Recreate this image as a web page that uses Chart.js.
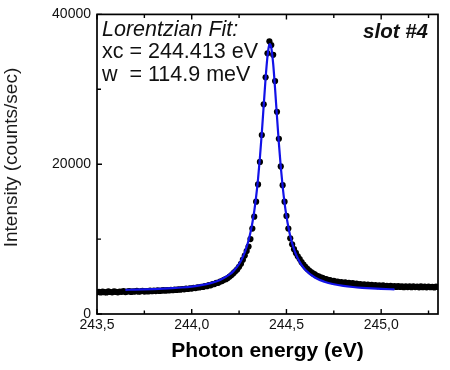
<!DOCTYPE html>
<html lang="en">
<head>
  <meta charset="UTF-8">
  <title>Lorentzian Fit - slot #4</title>
  <script src="https://cdn.jsdelivr.net/npm/chart.js"></script>
  <style>
    body { margin: 0; background: #fff; }
    #wrap { width: 450px; height: 370px; }
  </style>
</head>
<body>
  <div id="wrap"><canvas id="peakChart" width="450" height="370"></canvas></div>

  <script>
    // measured points, photon energy (eV)
    const energy = [
      243.50, 243.51, 243.52, 243.53, 243.54, 243.55, 243.56, 243.57, 243.58, 243.59,
      243.60, 243.61, 243.62, 243.63, 243.64, 243.65, 243.66, 243.67, 243.68, 243.69,
      243.70, 243.71, 243.72, 243.73, 243.74, 243.75, 243.76, 243.77, 243.78, 243.79,
      243.80, 243.81, 243.82, 243.83, 243.84, 243.85, 243.86, 243.87, 243.88, 243.89,
      243.90, 243.91, 243.92, 243.93, 243.94, 243.95, 243.96, 243.97, 243.98, 243.99,
      244.00, 244.01, 244.02, 244.03, 244.04, 244.05, 244.06, 244.07, 244.08, 244.09,
      244.10, 244.11, 244.12, 244.13, 244.14, 244.15, 244.16, 244.17, 244.18, 244.19,
      244.20, 244.21, 244.22, 244.23, 244.24, 244.25, 244.26, 244.27, 244.28, 244.29,
      244.30, 244.31, 244.32, 244.33, 244.34, 244.35, 244.36, 244.37, 244.38, 244.39,
      244.40, 244.41, 244.42, 244.43, 244.44, 244.45, 244.46, 244.47, 244.48, 244.49,
      244.50, 244.51, 244.52, 244.53, 244.54, 244.55, 244.56, 244.57, 244.58, 244.59,
      244.60, 244.61, 244.62, 244.63, 244.64, 244.65, 244.66, 244.67, 244.68, 244.69,
      244.70, 244.71, 244.72, 244.73, 244.74, 244.75, 244.76, 244.77, 244.78, 244.79,
      244.80, 244.81, 244.82, 244.83, 244.84, 244.85, 244.86, 244.87, 244.88, 244.89,
      244.90, 244.91, 244.92, 244.93, 244.94, 244.95, 244.96, 244.97, 244.98, 244.99,
      245.00, 245.01, 245.02, 245.03, 245.04, 245.05, 245.06, 245.07, 245.08, 245.09,
      245.10, 245.11, 245.12, 245.13, 245.14, 245.15, 245.16, 245.17, 245.18, 245.19,
      245.20, 245.21, 245.22, 245.23, 245.24, 245.25, 245.26, 245.27, 245.28, 245.29,
      245.30
    ];
    // intensity (counts/sec)
    const counts = [
      2900, 2960, 2870, 2990, 2920, 2880, 3010, 2940, 2900, 3030,
      2950, 2890, 3000, 2960, 3050, 2930, 2990, 3060, 2950, 3010,
      2990, 3080, 2970, 3030, 3100, 2990, 3060, 3020, 3110, 3040,
      3130, 3060, 3150, 3080, 3120, 3190, 3110, 3200, 3140, 3230,
      3170, 3260, 3210, 3300, 3250, 3340, 3290, 3390, 3340, 3440,
      3400, 3500, 3460, 3560, 3540, 3640, 3620, 3740, 3720, 3850,
      3830, 3980, 3990, 4150, 4160, 4340, 4400, 4560, 4650, 4800,
      5000, 5200, 5450, 5700, 5950, 6300, 6700, 7250, 7800, 8400,
      9000, 10000, 11400, 13000, 15000, 17300, 20300, 23900, 28000, 31600,
      34800, 36400, 35900, 34600, 31100, 27000, 23400, 19700, 17200, 15000,
      13100, 11400, 10100, 9300, 8650, 8150, 7700, 7330, 6920, 6600,
      6300, 6040, 5800, 5610, 5420, 5280, 5110, 5020, 4890, 4820,
      4700, 4660, 4540, 4530, 4400, 4430, 4290, 4340, 4200, 4270,
      4140, 4210, 4080, 4160, 4030, 4110, 3980, 4060, 3940, 3990,
      3870, 3960, 3840, 3910, 3800, 3890, 3760, 3850, 3730, 3820,
      3700, 3810, 3680, 3770, 3650, 3760, 3640, 3720, 3610, 3730,
      3620, 3700, 3580, 3690, 3600, 3680, 3570, 3700, 3590, 3660,
      3560, 3680, 3580, 3650, 3560, 3670, 3580, 3640, 3550, 3660,
      3590
    ];

    // Lorentzian fit curve
    const fitEnergy = [
      243.65, 243.70, 243.75, 243.80, 243.85, 243.90, 243.95, 244.00, 244.05, 244.10,
      244.15, 244.20, 244.22, 244.24, 244.26, 244.28, 244.30, 244.31, 244.32, 244.33,
      244.34, 244.35, 244.36, 244.37, 244.38, 244.39, 244.40, 244.405, 244.41, 244.413,
      244.42, 244.43, 244.44, 244.45, 244.46, 244.47, 244.48, 244.49, 244.50, 244.51,
      244.52, 244.54, 244.56, 244.58, 244.60, 244.65, 244.70, 244.75, 244.80, 244.85,
      244.90, 244.95, 245.00, 245.05, 245.07
    ];
    const fitCounts = [
      3226, 3253, 3286, 3327, 3380, 3449, 3540, 3666, 3846, 4115,
      4543, 5277, 5726, 6318, 7119, 8226, 9814, 10875, 12153, 13716,
      15666, 18009, 20892, 24186, 27846, 31473, 34423, 35412, 35950, 36040,
      35557, 33383, 30069, 26364, 22808, 19668, 17021, 14840, 13059, 11609,
      10423, 8645, 7412, 6532, 5886, 4871, 4311, 3972, 3751, 3601,
      3493, 3413, 3353, 3306, 3290
    ];

    const xTickValues = [243.5, 244.0, 244.5, 245.0];
    const xTickLabels = ['243,5', '244,0', '244,5', '245,0'];
    const yTickValues = [0, 20000, 40000];
    const yTickLabels = ['0', '20000', '40000'];

    const fitText = ['Lorentzian Fit:', 'xc = 244.413 eV', 'w  = 114.9 meV'];
    const slotText = 'slot #4';
    const yTitle = 'Intensity (counts/sec)';
    const xTitle = 'Photon energy (eV)';

    const FONT = "'Liberation Sans', Arial, sans-serif";

    function lookup(values, labels, v) {
      const i = values.findIndex(t => Math.abs(t - v) < 1e-6);
      return i >= 0 ? labels[i] : '';
    }

    // frame, inward ticks and the text blocks
    const framePlugin = {
      id: 'frame',
      afterDraw(chart) {
        const { ctx, chartArea: a, scales: { x, y } } = chart;
        ctx.save();
        ctx.strokeStyle = '#000';
        ctx.lineWidth = 1.4;
        ctx.beginPath();
        x.ticks.forEach(t => {
          const px = x.getPixelForValue(t.value);
          const len = t.label ? 5 : 3.5;
          ctx.moveTo(px, a.bottom); ctx.lineTo(px, a.bottom - len);
          ctx.moveTo(px, a.top); ctx.lineTo(px, a.top + len);
        });
        y.ticks.forEach(t => {
          const py = y.getPixelForValue(t.value);
          const len = t.label ? 5 : 4;
          ctx.moveTo(a.left, py); ctx.lineTo(a.left + len, py);
        });
        ctx.stroke();

        ctx.lineWidth = 1.7;
        ctx.strokeRect(a.left, a.top, a.right - a.left, a.bottom - a.top);

        ctx.fillStyle = '#111';
        ctx.textBaseline = 'middle';
        ctx.textAlign = 'left';
        ctx.font = 'italic 21.5px ' + FONT;
        ctx.fillText(fitText[0], 102, 30);
        ctx.font = '21.5px ' + FONT;
        ctx.fillText(fitText[1], 102, 52.5);
        ctx.fillText(fitText[2], 102, 75);

        ctx.textAlign = 'right';
        ctx.font = 'italic bold 20.5px ' + FONT;
        ctx.fillText(slotText, 428, 32);

        ctx.translate(12, 157.5);
        ctx.rotate(-Math.PI / 2);
        ctx.textAlign = 'center';
        ctx.font = '19px ' + FONT;
        ctx.fillStyle = '#1a1a1a';
        ctx.fillText(yTitle, 0, 0);
        ctx.restore();
      }
    };

    new Chart(document.getElementById('peakChart'), {
      type: 'scatter',
      data: {
        datasets: [
          {
            label: 'Lorentzian fit',
            data: fitEnergy.map((e, i) => ({ x: e, y: fitCounts[i] })),
            showLine: true,
            borderColor: '#1212e8',
            borderWidth: 2.2,
            pointRadius: 0,
            cubicInterpolationMode: 'monotone',
            order: 0
          },
          {
            label: 'Data',
            data: energy.map((e, i) => ({ x: e, y: counts[i] })),
            backgroundColor: '#000',
            borderWidth: 0,
            pointRadius: 3.1,
            order: 1
          }
        ]
      },
      options: {
        responsive: false,
        animation: false,
        events: [],
        layout: { padding: { left: 0, right: 12, top: 13, bottom: 0 } },
        plugins: { legend: { display: false }, tooltip: { enabled: false } },
        scales: {
          x: {
            type: 'linear',
            position: 'bottom',
            min: 243.5,
            max: 245.3,
            grid: { display: false, drawTicks: false },
            border: { display: false },
            ticks: {
              stepSize: 0.25,
              includeBounds: false,
              autoSkip: false,
              maxRotation: 0,
              padding: 3,
              color: '#111',
              font: { family: FONT, size: 14 },
              callback: v => lookup(xTickValues, xTickLabels, v)
            },
            title: {
              display: true,
              text: xTitle,
              color: '#000',
              font: { family: FONT, size: 21, weight: 'bold' },
              padding: { top: 0, bottom: 6 }
            },
            afterFit: s => { s.height = 56; }
          },
          y: {
            min: 0,
            max: 40000,
            grid: { display: false, drawTicks: false },
            border: { display: false },
            ticks: {
              stepSize: 10000,
              autoSkip: false,
              padding: 6,
              color: '#111',
              font: { family: FONT, size: 14 },
              callback: v => lookup(yTickValues, yTickLabels, v)
            },
            afterFit: s => { s.width = 97; }
          }
        }
      },
      plugins: [framePlugin]
    });
  </script>
</body>
</html>
